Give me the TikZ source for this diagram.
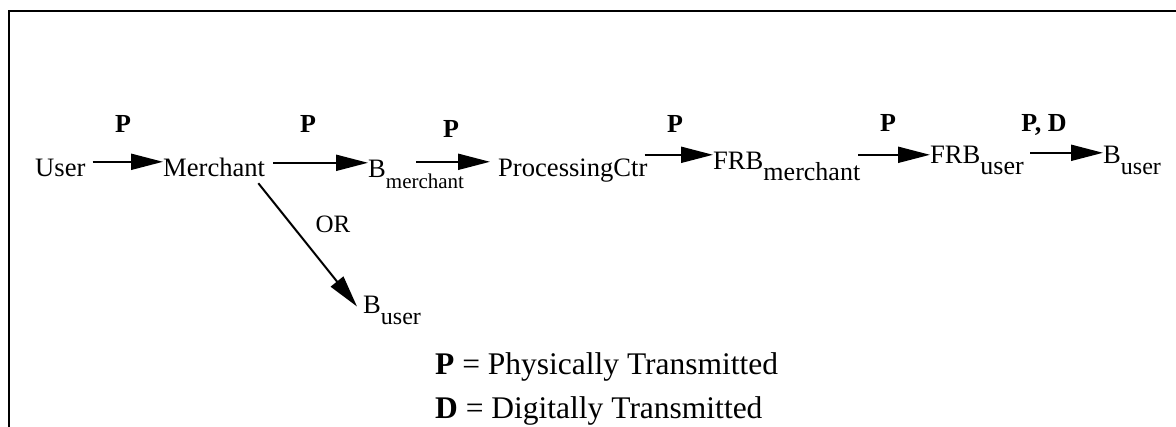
\documentclass[tikz,border=0pt]{standalone}
\usepackage{fontspec}
\setmainfont{Liberation Serif}
\usetikzlibrary{arrows.meta}
\newcommand{\lowtxt}[2][24]{\raisebox{-10.5pt}{\fontsize{#1}{#1}\selectfont #2}}

\begin{document}
\begin{tikzpicture}[
        x=1pt, y=-1pt,
        ent/.style={inner sep=0pt, anchor=base west, text height=15pt, text depth=0pt,
                    font=\fontsize{26.6}{30}\selectfont},
        lbl/.style={inner sep=0pt, anchor=base, font=\fontsize{26}{30}\bfseries\selectfont},
        legtxt/.style={inner sep=0pt, anchor=base west, font=\fontsize{31.5}{36}\selectfont},
        flow/.style={line width=2pt, -{Triangle[length=32pt, width=16pt]}}
    ]
    \useasboundingbox (0,0) rectangle (1176,427);
    \draw[line width=2pt] (1176,11) -- (9,11) -- (9,427);

    \node[ent] (user) at (35,177) {User};
    \node[ent] (merchant) at (163,177) {Merchant};
    \node[ent] (bmer) at (368,178) {B\lowtxt[21]{merchant}};
    \node[ent] (proc) at (498,177) {ProcessingCtr};
    \node[ent] (frbm) at (713,170) {FRB\lowtxt[26]{merchant}};
    \node[ent, text height=9pt] (frbu) at (930,164) {FRB\lowtxt[26]{user}};
    \node[ent, text height=11pt] (bu) at (1103,164) {B\lowtxt{user}};
    \node[ent] (bulow) at (363,314) {B\lowtxt{user}};

    \draw[flow] ([xshift=7pt]user.north east |- merchant.north west) -- (merchant.north west);
    \draw[flow] ([xshift=8pt]merchant.north east |- bmer.north west) -- (bmer.north west);
    \draw[flow] ([xshift=-48pt]bmer.north east |- proc.north west) -- ([xshift=-8pt]proc.north west);
    \draw[flow] ([xshift=-3pt]proc.north east |- frbm.north west) -- (frbm.north west);
    \draw[flow] ([xshift=-2pt]frbm.north east |- frbu.north west) -- (frbu.north west);
    \draw[flow] ([xshift=6pt]frbu.north east |- bu.north west) -- (bu.north west);
    \draw[flow] ([shift={(-7pt,-6pt)}]merchant.south east) -- ([xshift=-6pt]bulow.west);

    % transmission labels
    \node[lbl] (l1) at (123,133) {P};
    \node[lbl] (l2) at (308,133) {P};
    \node[lbl] (l3) at (451,138) {P};
    \node[lbl] (l4) at (675,133) {P};
    \node[lbl] (l5) at (888,132) {P};
    \node[lbl] (l6) at (1044,132) {P, D};
    \node[inner sep=0pt, anchor=base, font=\fontsize{25}{28}\selectfont] (orlbl) at (333,233) {OR};

    \node[legtxt] (legp) at (435,375) {\textbf{P} = Physically Transmitted};
    \node[legtxt] (legd) at ([yshift=-44pt]legp.base west) {\textbf{D} = Digitally Transmitted};
\end{tikzpicture}
\end{document}
